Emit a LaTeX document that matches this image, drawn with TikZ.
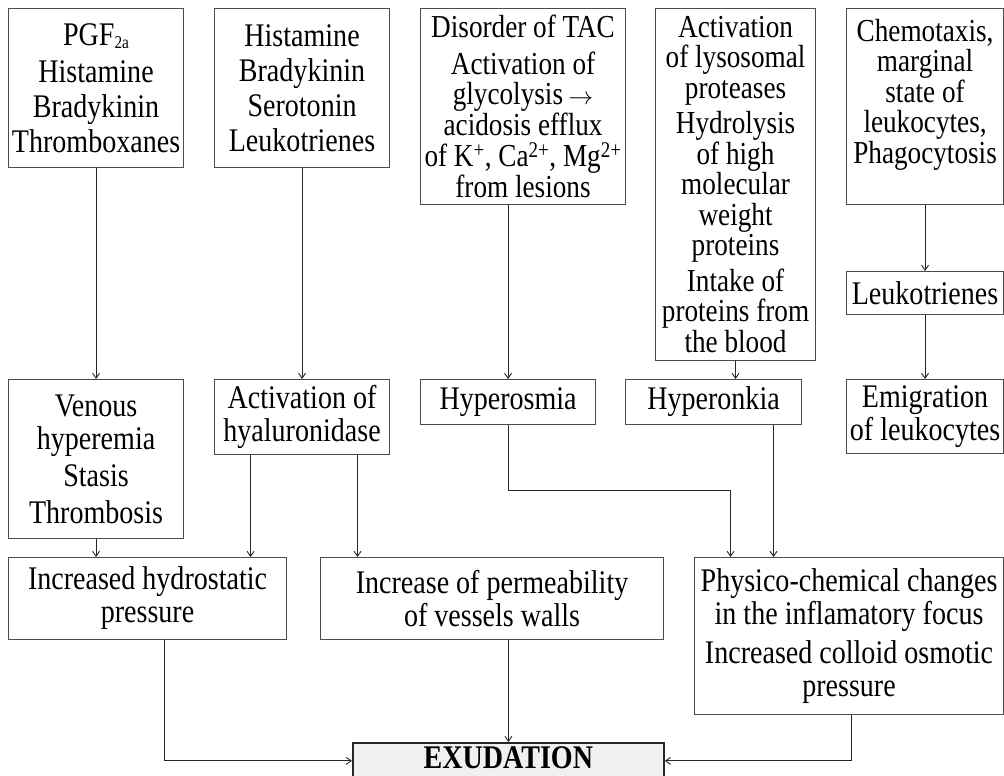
\documentclass[tikz,border=0pt]{standalone}
\usepackage{fontspec}
\setmainfont{Liberation Serif}[FakeStretch=0.85]
\usetikzlibrary{arrows.meta}
\tikzset{
  box/.style={draw=black!70, line width=1.1pt, align=center, inner sep=0pt,
    anchor=north west, font=\fontsize{33}{33}\selectfont},
  tight/.style={font=\fontsize{32}{30.5}\selectfont},
  wide/.style={font=\fontsize{33}{35}\selectfont},
  arr/.style={draw=black!85, line width=0.9pt, -{Straight Barb[length=5pt,width=7pt]}},
  exbox/.style={draw=black!85, line width=1.8pt, fill=black!6, inner sep=0pt,
    anchor=north west, text depth=7pt, font=\fontsize{33}{33}\selectfont\bfseries}
}
\begin{document}
\begin{tikzpicture}[x=1pt,y=-1pt]
\useasboundingbox (0,0) rectangle (1004,776);
% row 1
\node[box,wide,minimum width=175pt,minimum height=159pt] (b1) at (8,8)
  {PGF\raisebox{-3pt}{\fontsize{18}{18}\selectfont 2a}\\[2pt]Histamine\\Bradykinin\\Thromboxanes};
\node[box,wide,minimum width=175pt,minimum height=159pt] (b2) at (214,8)
  {Histamine\\Bradykinin\\Serotonin\\Leukotrienes};
\node[box,tight,minimum width=205pt,minimum height=196pt] (b3) at (420,8)
  {Disorder of TAC\\[6pt]Activation of\\glycolysis\,$\rightarrow$\\acidosis efflux\\[1pt]of K\textsuperscript{+}, Ca\textsuperscript{2+}, Mg\textsuperscript{2+}\\from lesions};
\node[box,tight,minimum width=160pt,minimum height=352pt] (b4) at (655,8)
  {Activation\\of lysosomal\\proteases\\[5pt]Hydrolysis\\of high\\molecular\\weight\\proteins\\[5pt]Intake of\\proteins from\\the blood};
\node[box,tight,minimum width=157pt,minimum height=196pt] (b5) at (846,8)
  {Chemotaxis,\\marginal\\state of\\leukocytes,\\Phagocytosis\\~};
\node[box,minimum width=157pt,minimum height=43pt] (leuk) at (846,271) {Leukotrienes};
% row 2
\node[box,minimum width=175pt,minimum height=159pt] (ven) at (8,379)
  {Venous\\hyperemia\\[4pt]Stasis\\[4pt]Thrombosis};
\node[box,minimum width=175pt,minimum height=75pt] (hyal) at (214,379)
  {Activation of\\hyaluronidase};
\node[box,minimum width=175pt,minimum height=45pt] (hosm) at (420,379) {Hyperosmia};
\node[box,minimum width=176pt,minimum height=45pt] (honk) at (625,379) {Hyperonkia};
\node[box,minimum width=157pt,minimum height=74pt] (emig) at (846,379)
  {Emigration\\of leukocytes};
% row 3
\node[box,minimum width=278pt,minimum height=82pt] (hydro) at (8,557)
  {Increased hydrostatic\\pressure};
\node[box,minimum width=343pt,minimum height=82pt] (perm) at (320,557)
  {Increase of permeability\\of vessels walls};
\node[box,minimum width=309pt,minimum height=157pt] (phys) at (694,557)
  {Physico-chemical changes\\in the inflamatory focus\\[6pt]Increased colloid osmotic\\pressure};
\node[exbox,minimum width=311pt,minimum height=36pt] (exud) at (352,742) {EXUDATION};
% connectors
\draw[arr] (b1.south) -- (ven.north);
\draw[arr] (b2.south) -- (hyal.north);
\draw[arr] (b3.south -| hosm.north) -- (hosm.north);
\draw[arr] (b4.south) -- (b4.south |- honk.north);
\draw[arr] (b5.south) -- (leuk.north);
\draw[arr] (leuk.south) -- (emig.north);
\draw[arr] (ven.south) -- (ven.south |- hydro.north);
\draw[arr] ([xshift=-51.5pt]hyal.south) -- ([xshift=-51.5pt]hyal.south |- hydro.north);
\draw[arr] ([xshift=55.5pt]hyal.south) -- ([xshift=55.5pt]hyal.south |- perm.north);
\draw[arr] (hosm.south) -- ++(0,65) -| ([xshift=-118.5pt]phys.north);
\draw[arr] ([xshift=60pt]honk.south) -- ([xshift=60pt]honk.south |- phys.north);
\draw[arr] ([xshift=17pt]hydro.south) |- (exud.west);
\draw[arr] (perm.south -| exud.north) -- (exud.north);
\draw[arr] ([xshift=2.5pt]phys.south) |- (exud.east);
\end{tikzpicture}
\end{document}
